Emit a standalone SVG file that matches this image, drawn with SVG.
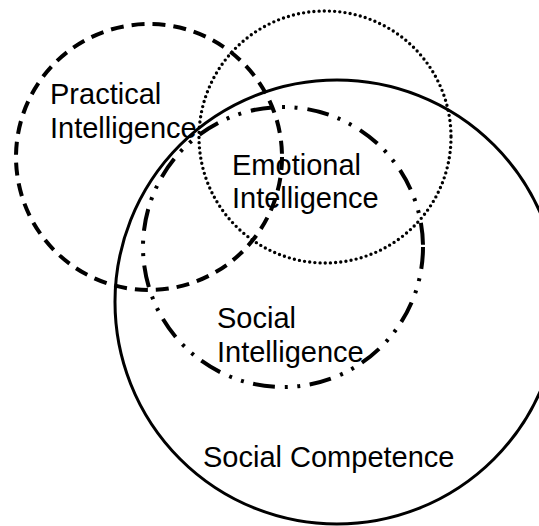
<svg xmlns="http://www.w3.org/2000/svg" width="539" height="526" viewBox="0 0 539 526">
<style>
.c{fill:none;stroke:#000}
.dash{stroke-width:4;stroke-dasharray:13 8}
.dot{stroke-width:3.4;stroke-dasharray:0 5.2;stroke-linecap:round}
.solid{stroke-width:3}
.dd{stroke-width:4;stroke-dasharray:22 9.5 3 9.5 3 10}
text{font-family:"Liberation Sans",Arial,sans-serif;font-size:29px;fill:#000}
</style>
<rect width="539" height="526" fill="#fff"/>
<g id="practical"><circle class="c dash" cx="149" cy="157" r="133"/><text x="50" y="104">Practical</text><text x="50" y="138">Intelligence</text></g>
<g id="emotional"><circle class="c dot" cx="325" cy="137" r="126"/><text x="232" y="175">Emotional</text><text x="232" y="208">Intelligence</text></g>
<g id="competence"><circle class="c solid" cx="337" cy="302" r="222"/><text x="203" y="467">Social Competence</text></g>
<g id="social"><circle class="c dd" cx="283" cy="247" r="140"/><text x="217" y="328">Social</text><text x="217" y="362">Intelligence</text></g>
<g id="connectors"></g>
</svg>
